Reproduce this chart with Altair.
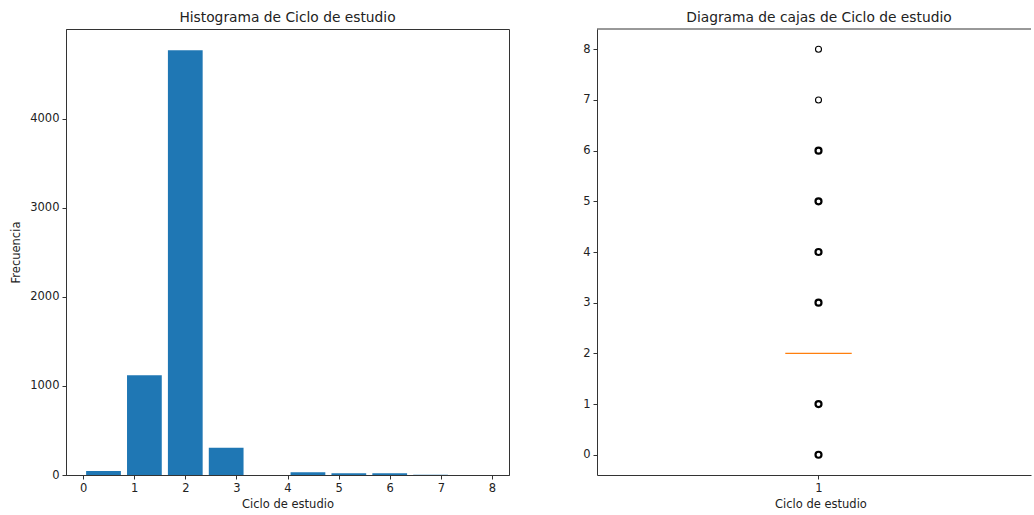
import altair as alt
import pandas as pd

# Histogram data (matplotlib-style bins: 10 bins over 0..8)
bin_left = [0.0, 0.8, 1.6, 2.4, 3.2, 4.0, 4.8, 5.6, 6.4, 7.2]
counts = [45, 1119, 4770, 307, 0, 32, 20, 20, 2, 1]
bin_width = 0.8
rwidth = 0.85

# Box plot data
values = [0, 1, 2, 3, 4, 5, 6, 7, 8]
value_counts = [45, 1119, 4770, 307, 32, 20, 20, 2, 1]
median = 2
box_pos = 1
box_width = 0.15

hist_df = pd.DataFrame({"left": bin_left, "count": counts})
out_df = pd.DataFrame({"value": values, "n": value_counts})
out_df = out_df[out_df["value"] != median]
med_df = pd.DataFrame({"median": [median], "pos": [box_pos]})

FONT = "DejaVu Sans"
BLUE = "#1f77b4"
SPINE = "#333"
W, H = 443, 446
W_RIGHT = 434  # right panel is cut by the window edge

bars = alt.Chart(hist_df).transform_calculate(
    x1=f"datum.left + {bin_width} * (1 - {rwidth}) / 2",
    x2=f"datum.left + {bin_width} * (1 + {rwidth}) / 2",
).mark_bar(color=BLUE).encode(
    x=alt.X("x1:Q", scale=alt.Scale(domain=[-0.334, 8.334], nice=False, zero=False),
            axis=alt.Axis(values=list(range(9)), title="Ciclo de estudio", format="d")),
    x2="x2:Q",
    y=alt.Y("count:Q", scale=alt.Scale(domain=[0, 5008], nice=False),
            axis=alt.Axis(values=[0, 1000, 2000, 3000, 4000], title="Frecuencia", format="d")),
    y2=alt.datum(0),
)

left = alt.layer(bars).properties(
    width=W, height=H,
    title=alt.TitleParams("Histograma de Ciclo de estudio"),
)

pts = alt.Chart(out_df).transform_calculate(pos=f"{box_pos}").mark_point(
    shape="circle", filled=False, color="black", size=36, opacity=1
).encode(
    x=alt.X("pos:Q", scale=alt.Scale(domain=[0.5, 0.5 + W_RIGHT / W], nice=False, zero=False),
            axis=alt.Axis(values=[1], title="Ciclo de estudio", format="d",
                          titleAnchor="start", titleX=(W / 2) - 44)),
    y=alt.Y("value:Q", scale=alt.Scale(domain=[-0.4, 8.4], nice=False, zero=False),
            axis=alt.Axis(values=list(range(9)), title=None, format="d")),
    strokeWidth=alt.condition("datum.n > 5", alt.value(2.2), alt.value(1.1)),
)

med = alt.Chart(med_df).transform_calculate(
    a=f"datum.pos - {box_width}/2", b=f"datum.pos + {box_width}/2"
).mark_rule(color="#ff7f0e", strokeWidth=1.4).encode(
    x="a:Q", x2="b:Q", y="median:Q",
)

top_spine = alt.Chart(med_df).mark_rule(color=SPINE, strokeWidth=1).encode(
    x=alt.value(0), x2=alt.value(W_RIGHT), y=alt.value(0),
)

right = alt.layer(pts, med, top_spine).properties(
    width=W_RIGHT, height=H,
    title=alt.TitleParams("Diagrama de cajas de Ciclo de estudio", dx=5),
    view=alt.ViewBackground(stroke="transparent"),
)

chart = alt.hconcat(left, right, spacing=72).properties(
    padding={"left": 10, "top": 10, "right": 0, "bottom": 0}
).configure(
    font=FONT,
).configure_view(
    stroke=SPINE, strokeWidth=1,
).configure_axis(
    grid=False, labelFont=FONT, titleFont=FONT, labelFontSize=11.5, titleFontSize=11.5,
    labelColor="#222", titleColor="#222", titleFontWeight="normal",
    tickColor=SPINE, tickSize=4, domainColor=SPINE, labelPadding=3,
    titlePadding=5,
).configure_axisY(titlePadding=8).configure_title(
    font=FONT, fontSize=13.8, fontWeight="normal", color="#222", offset=4, anchor="middle",
)

chart.save("out.html", embed_options={"renderer": "svg", "actions": False})
